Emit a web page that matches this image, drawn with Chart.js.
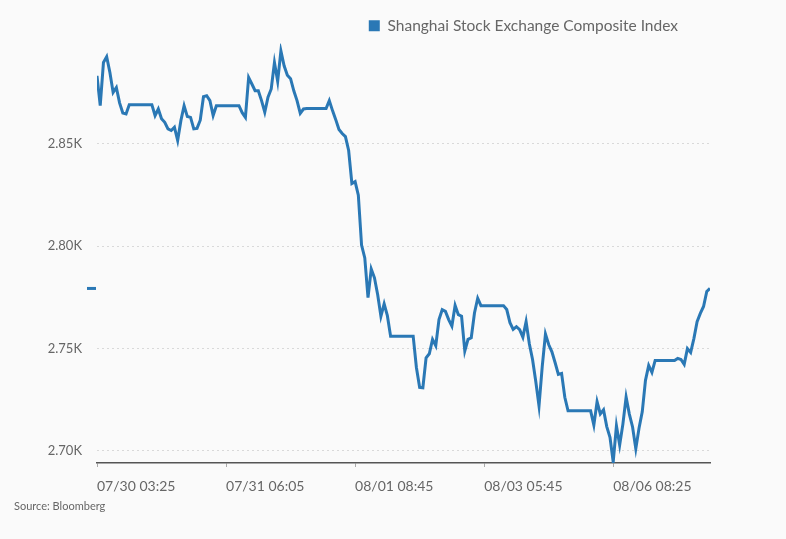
<!DOCTYPE html>
<html>
<head>
<meta charset="utf-8">
<script src="https://cdn.jsdelivr.net/npm/chart.js@4.4.1/dist/chart.umd.min.js"></script>
<style>
  html, body { margin: 0; padding: 0; background: #fafafa; }
  #wrap { position: relative; width: 786px; height: 539px; }
  #source { position: absolute; left: 14px; top: 499px; font: 11px Lato, sans-serif; color: #666; }
</style>
</head>
<body>
<div id="wrap">
  <canvas id="chart_sse"></canvas>
  <div id="source">Source: Bloomberg</div>
</div>
<script>
const seriesName = 'Shanghai Stock Exchange Composite Index';

// x tick labels, one every 40 points
const tickLabels = ['07/30 03:25', '07/31 06:05', '08/01 08:45', '08/03 05:45', '08/06 08:25'];
const tickStep = 40;

// index values
const prices = [
  2883.2, 2868.6, 2889.7, 2892.5, 2884.8, 2875.1, 2877.5, 2870.0, 2865.0, 2864.6,
  2869.1, 2869.1, 2869.1, 2869.1, 2869.1, 2869.1, 2869.1, 2869.1, 2863.8, 2867.0,
  2862.2, 2860.5, 2857.3, 2856.5, 2858.1, 2851.6, 2861.3, 2868.6, 2863.3, 2862.9,
  2857.3, 2857.5, 2861.5, 2873.0, 2873.5, 2871.1, 2863.8, 2868.6, 2868.6, 2868.6,
  2868.6, 2868.6, 2868.6, 2868.6, 2868.6, 2865.2, 2862.9, 2882.4, 2879.2, 2875.9,
  2875.9, 2871.1, 2865.4, 2872.8, 2876.8, 2889.7, 2880.5, 2895.4, 2888.1, 2883.5,
  2881.8, 2875.9, 2871.1, 2864.9, 2867.0, 2867.2, 2867.2, 2867.2, 2867.2, 2867.2,
  2867.2, 2867.2, 2871.1, 2866.2, 2861.8, 2857.0, 2855.0, 2853.5, 2846.7, 2830.6,
  2831.5, 2824.9, 2800.5, 2794.2, 2774.8, 2788.8, 2784.5, 2776.2, 2765.7, 2771.8,
  2766.0, 2756.0, 2756.0, 2756.0, 2756.0, 2756.0, 2756.0, 2756.0, 2756.0, 2740.7,
  2731.0, 2730.8, 2745.4, 2747.4, 2754.4, 2751.3, 2764.1, 2768.9, 2768.1, 2764.1,
  2760.9, 2771.0, 2766.5, 2765.7, 2748.7, 2754.4, 2755.2, 2767.3, 2774.5, 2770.9,
  2770.9, 2770.9, 2770.9, 2770.9, 2770.9, 2770.9, 2770.9, 2769.0, 2762.6, 2759.3,
  2760.6, 2759.2, 2755.5, 2763.1, 2752.3, 2744.6, 2733.8, 2721.9, 2741.1, 2757.0,
  2751.9, 2748.3, 2743.0, 2737.3, 2737.8, 2726.1, 2719.5, 2719.5, 2719.5, 2719.5,
  2719.5, 2719.5, 2719.5, 2719.5, 2712.5, 2724.0, 2718.0, 2720.0, 2711.8, 2706.6,
  2694.5, 2712.2, 2702.8, 2713.0, 2726.2, 2717.9, 2711.6, 2701.0, 2711.0, 2719.0,
  2734.4, 2741.7, 2738.3, 2744.1, 2744.1, 2744.1, 2744.1, 2744.1, 2744.1, 2744.1,
  2745.1, 2744.6, 2742.2, 2749.9, 2748.0, 2754.8, 2763.1, 2767.1, 2770.5, 2777.8,
  2779.3
];

const yTicks = [2700, 2750, 2800, 2850];
const yMin = 2694;
const yMax = 2899;

const lineColor = '#2a78b5';
const textColor = '#666';
const fontFamily = 'Lato, sans-serif';

// little blue dash at the left of the axis showing the last value
const lastValueMarker = {
    id: 'lastValueMarker',
    afterDatasetsDraw(chart) {
        const c = chart.ctx;
        const y = chart.scales.y.getPixelForValue(prices[prices.length - 1]);
        const left = chart.chartArea.left;
        c.save();
        c.strokeStyle = lineColor;
        c.lineWidth = 3;
        c.beginPath();
        c.moveTo(left - 10, y);
        c.lineTo(left - 1, y);
        c.stroke();
        c.restore();
    }
};

// pull the legend in from the right edge of the plot
const legendShift = {
    id: 'legendShift',
    afterLayout(chart) {
        chart.legend.right -= 22;
    }
};

const ctx = document.getElementById('chart_sse').getContext('2d');

var data = {
    datasets: [{
        label: seriesName,
        data: prices.map((v, i) => ({ x: i, y: v })),
        borderColor: lineColor,
        backgroundColor: lineColor,
        borderWidth: 3,
        pointRadius: 0,
        tension: 0
    }]
};

var options = {
    responsive: true,
    maintainAspectRatio: false,
    animation: false,
    layout: {
        padding: { top: 8, right: 76, bottom: 36, left: 0 }
    },
    plugins: {
        legend: {
            position: 'top',
            align: 'end',
            labels: {
                boxWidth: 11,
                boxHeight: 11,
                color: textColor,
                font: { family: fontFamily, size: 15.5 },
                generateLabels: chart => Chart.defaults.plugins.legend.labels.generateLabels(chart)
                    .map(l => Object.assign(l, { lineWidth: 0 }))
            }
        },
        tooltip: { enabled: false }
    },
    scales: {
        x: {
            type: 'linear',
            min: 0,
            max: prices.length - 1,
            afterFit: scale => { scale.height = 40; },
            border: { display: true, color: '#555', width: 1.5 },
            grid: {
                drawOnChartArea: false,
                drawTicks: true,
                tickLength: 4,
                tickColor: '#aaa'
            },
            ticks: {
                stepSize: tickStep,
                includeBounds: false,
                autoSkip: false,
                maxRotation: 0,
                align: 'start',
                padding: 11,
                color: textColor,
                font: { family: fontFamily, size: 14 },
                callback: v => tickLabels[v / tickStep]
            }
        },
        y: {
            min: yMin,
            max: yMax,
            afterFit: scale => { scale.width = 97; },
            afterBuildTicks: scale => { scale.ticks = yTicks.map(v => ({ value: v })); },
            border: { display: false, dash: [2, 3] },
            grid: { color: '#d9d9d9', drawTicks: false },
            ticks: {
                padding: 15,
                color: textColor,
                font: { family: fontFamily, size: 13 },
                callback: v => (v / 1000).toFixed(2) + 'K'
            }
        }
    }
};

var config = {
    type: 'line',
    data: data,
    options: options,
    plugins: [lastValueMarker, legendShift]
};

var chart_sse = new Chart(ctx, config);
</script>
</body>
</html>
